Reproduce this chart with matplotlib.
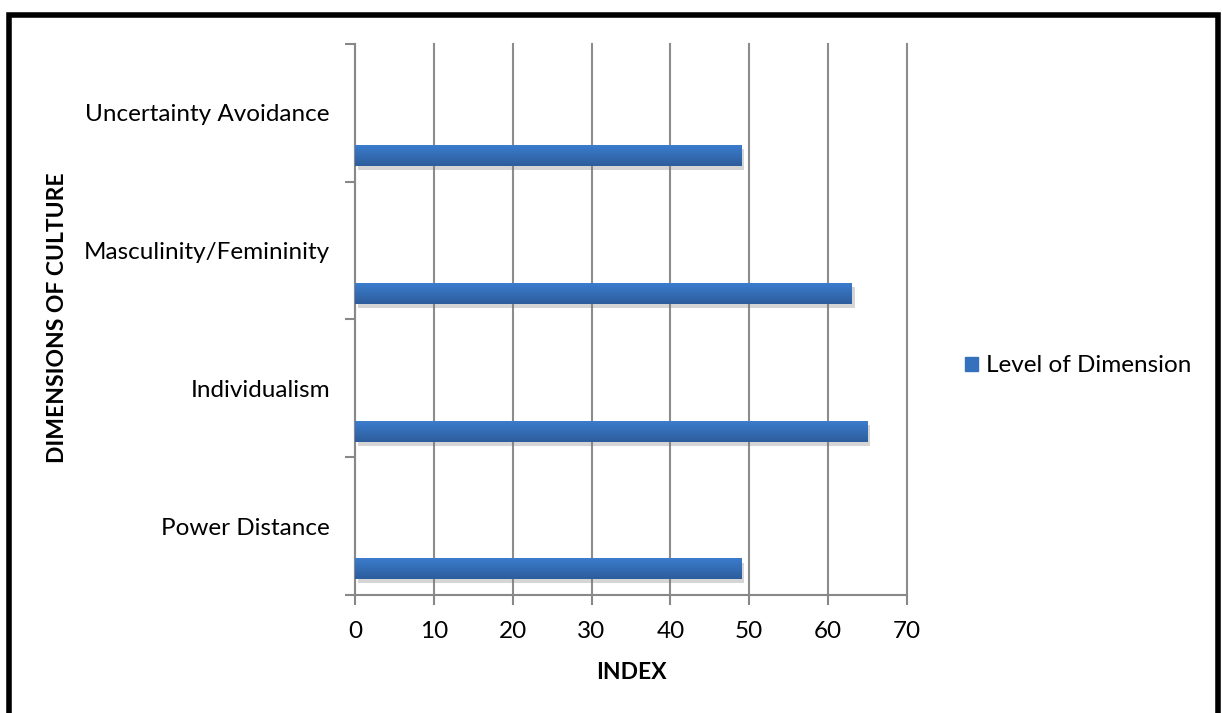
import numpy as np
import matplotlib
matplotlib.use('Agg')
from matplotlib import pyplot as plt
from matplotlib import patheffects as pe
from matplotlib.colors import LinearSegmentedColormap
from matplotlib.patches import Rectangle

plt.rcParams['font.family'] = ['Lato', 'DejaVu Sans']

# dimensions, bottom to top
dimensions = ['Power Distance', 'Individualism', 'Masculinity/Femininity', 'Uncertainty Avoidance']
levels = [49, 65, 63, 49]
series_name = 'Level of Dimension'

fig = plt.figure(figsize=(12.22, 7.13), dpi=100)
ax = fig.add_axes([0.2905, 0.1655, 0.4517, 0.7728])

ypos = np.arange(len(dimensions))
bar_h = 0.152
bars = ax.barh(ypos - 0.31, levels, height=bar_h, color='#3873c2', zorder=3,
               label=series_name,
               path_effects=[pe.SimplePatchShadow(offset=(2, -3), shadow_rgbFace='#777777', alpha=0.3),
                             pe.Normal()])

# vertical gradient on each bar
grad = LinearSegmentedColormap.from_list('barfill', ['#2d5d9c', '#3b7ccd'])
for b in bars:
    x0, y0, w, h = b.get_x(), b.get_y(), b.get_width(), b.get_height()
    im = ax.imshow(np.linspace(0, 1, 64).reshape(-1, 1), cmap=grad, aspect='auto',
                   extent=(x0, x0 + w, y0, y0 + h), origin='lower', zorder=4)
    im.set_clip_path(b)

ax.set_xlim(0, 70)
ax.set_ylim(-0.5, len(dimensions) - 0.5)
ax.set_xticks(range(0, 71, 10))
ax.set_yticks(ypos)
ax.set_yticklabels(dimensions)
ax.set_yticks(np.arange(-0.5, len(dimensions), 1), minor=True)
ax.tick_params(axis='y', which='major', length=0, pad=18, labelsize=17.5)
ax.tick_params(axis='y', which='minor', length=7, color='#888888', width=1.5)
ax.tick_params(axis='x', length=7, color='#888888', width=1.5, labelsize=17.5, pad=12)

ax.grid(axis='x', color='#8c8c8c', linewidth=1.5, zorder=0)
for gl in ax.get_xgridlines():
    gl.set_clip_on(False)
ax.set_axisbelow(True)
for side in ['top', 'right']:
    ax.spines[side].set_visible(False)
for side in ['left', 'bottom']:
    ax.spines[side].set_color('#888888')
    ax.spines[side].set_linewidth(1.5)

ax.set_xlabel('INDEX', fontsize=16.5, fontweight='bold', labelpad=14)
fig.text(0.047, 0.554, 'DIMENSIONS OF CULTURE', rotation=90, fontsize=16.5,
         fontweight='bold', ha='center', va='center')

ax.legend(handles=[Rectangle((0, 0), 1, 1, color='#3570bd')], labels=[series_name],
          loc='center left', bbox_to_anchor=(0.79, 0.487), bbox_transform=fig.transFigure,
          frameon=False, fontsize=17.5, handlelength=0.5, handleheight=0.5, handletextpad=0.35,
          borderpad=0, borderaxespad=0)

# outer frame
fig.patches.append(Rectangle((8.5 / 1222, -0.05), 1209 / 1222, 1 - 14.5 / 713 + 0.05,
                             transform=fig.transFigure, fill=False, edgecolor='black',
                             linewidth=4, zorder=10))

fig.savefig('out.png', dpi=100)
